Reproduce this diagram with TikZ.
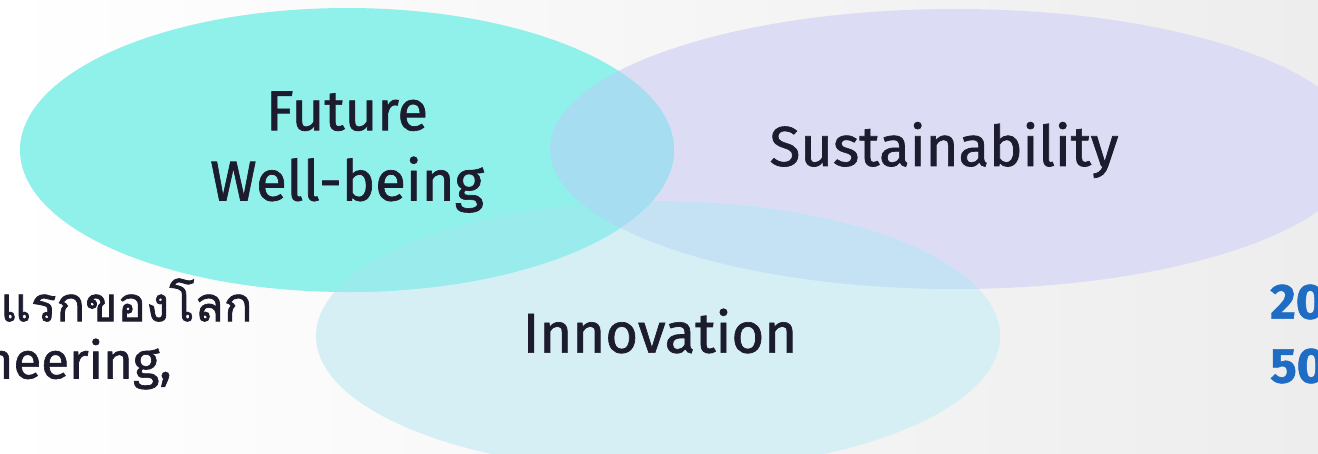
\documentclass[tikz,border=0pt]{standalone}
\usepackage{fontspec}
\setmainfont{Fira Sans}[FakeBold=1.2]
\newfontfamily\thaifont[Script=Thai,FakeBold=1.5]{Loma}
\definecolor{futcol}{HTML}{90F0EA}
\definecolor{suscol}{HTML}{DCDCF5}
\definecolor{inncol}{HTML}{D5EFF5}
\definecolor{fscol}{HTML}{A6DDF0}
\definecolor{sicol}{HTML}{C5E2F5}
\definecolor{ficol}{HTML}{99ECEB}
\definecolor{bgcol}{HTML}{EDEDED}
\definecolor{txtcol}{HTML}{1C1C2E}
\definecolor{numcol}{HTML}{1F6CC4}
\begin{document}
\begin{tikzpicture}[x=0.02cm,y=-0.02cm,
  lbl/.style={font=\fontsize{32}{40}\selectfont, text=txtcol, align=center, inner sep=0pt},
  side/.style={font=\fontsize{29}{34}\selectfont, text=txtcol, inner sep=0pt, anchor=east},
  num/.style={font=\bfseries\fontsize{28}{34}\selectfont, text=numcol, inner sep=0pt, anchor=west}]
\useasboundingbox (0,0) rectangle (1318,453);
\shade[left color=white, right color=bgcol] (0,0) rectangle (1318,453);
\pgfmathsetmacro{\fa}{327};
\pgfmathsetmacro{\fb}{142};
\pgfmathsetmacro{\sa}{405};
\pgfmathsetmacro{\sb}{140};
\pgfmathsetmacro{\ia}{342};
\pgfmathsetmacro{\ib}{135};
\coordinate (F) at (347,150);
\coordinate (S) at (955,149);
\coordinate (I) at (658,336);
\fill[suscol] (S) ellipse ({\sa} and {\sb});
\fill[inncol] (I) ellipse ({\ia} and {\ib});
\fill[futcol] (F) ellipse ({\fa} and {\fb});
\begin{scope}
\clip (S) ellipse ({\sa} and {\sb});
\fill[sicol] (I) ellipse ({\ia} and {\ib});
\end{scope}
\begin{scope}
\clip (F) ellipse ({\fa} and {\fb});
\fill[ficol] (I) ellipse ({\ia} and {\ib});
\fill[fscol] (S) ellipse ({\sa} and {\sb});
\end{scope}
\node[lbl] (fut) at (347,152) {Future\\Well-being};
\node[lbl] (sus) at (944,150) {Sustainability};
\node[lbl] (inn) at (660,331) {Innovation};
\node[side, anchor=west, font=\fontsize{27}{32}\selectfont] (thai) at (0,300) {\thaifont แรกของโลก};
\node[side] (eng) at (172,364) {neering,};
\node[num] (n20) at (1270,302) {20};
\node[num] (n50) at (1270,366) {50};
\end{tikzpicture}
\end{document}
